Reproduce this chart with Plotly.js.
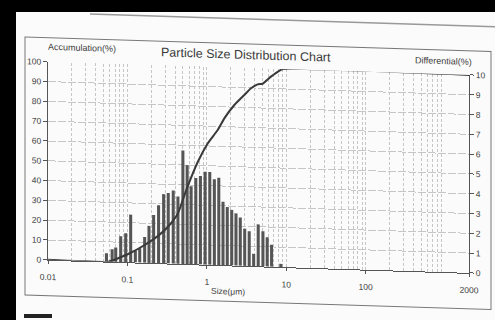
<!DOCTYPE html>
<html>
<head>
<meta charset="utf-8">
<script src="https://cdn.plot.ly/plotly-3.0.1.min.js"></script>
<style>
  html, body { margin: 0; padding: 0; background: #fff; }
  #wrap { position: relative; width: 495px; height: 320px; overflow: hidden; background: #fbfbfb; }
  #chart { position: absolute; left: 0; top: 0; width: 495px; height: 320px;
           transform: skewY(1.78deg); transform-origin: 247.5px 160px; }
  .band { position: absolute; background: #000; }
</style>
</head>
<body>
<div id="wrap">
  <div id="chart"></div>
  <div class="band" style="left:0;top:0;width:495px;height:12px;"></div>
  <div class="band" style="left:0;top:0;width:16px;height:320px;"></div>
  <div class="band" style="left:24px;top:314px;width:28px;height:4px;background:#222;"></div>
</div>
<script>
// Bar (differential) data: particle size (µm) and differential (%)
const sizes = [0.0545,0.0643,0.0713,0.0824,0.0952,0.110,0.126,0.143,0.165,0.187,0.214,0.247,0.286,0.327,0.378,0.433,0.500,0.566,0.635,0.727,0.831,0.952,1.09,1.245,1.415,1.60,1.81,2.06,2.33,2.64,3.00,3.42,3.89,4.44,5.09,5.76,6.54,8.55];
const differential = [0.42,0.63,0.73,1.30,1.46,2.41,0.60,0.73,1.30,1.87,2.43,2.93,3.50,3.56,3.70,3.40,5.73,5.00,3.94,4.36,4.47,4.69,4.69,4.33,4.41,3.21,2.95,2.81,2.64,2.44,1.88,1.76,0.62,2.12,1.78,1.48,1.11,0.16];

// Cumulative (accumulation) curve
const cumSizes = [0.01,0.0578,0.0764,0.107,0.165,0.243,0.324,0.433,0.550,0.771,1.03,1.37,1.66,2.22,2.96,3.60,4.36,5.04,6.41,8.15,9.07,2000];
const cumValues = [0,0,1.9,4.6,9.0,13.8,18.6,25.6,37.4,51.9,61.4,68.2,74.2,81.1,86.3,89.8,91.9,92.3,96.0,99.1,100,100];

// Tick labels
const xTickVals = [0.01,0.1,1,10,100,2000];
const xTickText = ['0.01','0.1','1','10','100','2000'];

const W = 495, H = 320, L = 48, R = 26, T = 68, B = 54;
const px = x => (x - L) / (W - L - R);
const py = y => 1 - (y - T) / (H - T - B);

const minorVals = [];
for (let d = -2; d <= 3; d++) {
  for (let k = 2; k <= 9; k++) {
    const v = k * Math.pow(10, d);
    if (v < 2000) minorVals.push(v);
  }
}

const font = 'Liberation Sans, Arial, sans-serif';
const tickFont = { family: font, size: 8.5, color: '#3c3c3c' };

const bars = {
  type: 'bar',
  x: sizes,
  y: differential,
  width: sizes.map(s => s * 0.088),
  marker: { color: '#555', line: { width: 0 } },
  xaxis: 'x', yaxis: 'y',
  hoverinfo: 'skip'
};

const curve = {
  type: 'scatter',
  mode: 'lines',
  x: cumSizes,
  y: cumValues,
  line: { color: '#3a3a3a', width: 2, shape: 'spline', smoothing: 0.5 },
  xaxis: 'x', yaxis: 'y2',
  hoverinfo: 'skip'
};

const gridCol = '#c6c6c6';

const layout = {
  width: W, height: H,
  margin: { l: L, r: R, t: T, b: B, pad: 0 },
  paper_bgcolor: 'rgba(0,0,0,0)',
  plot_bgcolor: 'rgba(0,0,0,0)',
  showlegend: false,
  font: { family: font, color: '#444' },
  xaxis: {
    type: 'log',
    range: [-2, Math.log10(2000)],
    tickmode: 'array', tickvals: xTickVals, ticktext: xTickText,
    ticks: 'outside', ticklen: 3, tickcolor: '#555',
    ticklabelstandoff: 6,
    tickfont: tickFont,
    showline: true, linecolor: '#555', linewidth: 1,
    showgrid: true, gridcolor: gridCol, griddash: '3px,2px', gridwidth: 1,
    minor: { tickmode: 'array', tickvals: minorVals, showgrid: true, gridcolor: gridCol, griddash: '3px,2px', gridwidth: 1, ticks: '' },
    zeroline: false, fixedrange: true
  },
  // differential axis (right)
  yaxis: {
    range: [0, 10], dtick: 1, side: 'right',
    ticks: 'outside', ticklen: 4, tickcolor: '#555',
    tickfont: tickFont,
    showline: true, linecolor: '#555', linewidth: 1,
    showgrid: false, zeroline: false
  },
  // accumulation axis (left)
  yaxis2: {
    range: [0, 100], dtick: 10, side: 'left', overlaying: 'y',
    ticks: 'outside', ticklen: 4, tickcolor: '#555',
    tickfont: tickFont,
    showline: true, linecolor: '#555', linewidth: 1,
    showgrid: true, gridcolor: gridCol, griddash: '8px,2px', gridwidth: 1,
    zeroline: false
  },
  annotations: [
    { text: 'Particle Size Distribution Chart', xref: 'paper', yref: 'paper', x: px(246), y: py(55), xanchor: 'center', yanchor: 'middle', showarrow: false, font: { family: font, size: 12.5, color: '#3a3a3a' } },
    { text: 'Accumulation(%)', xref: 'paper', yref: 'paper', x: px(82), y: py(53), xanchor: 'center', yanchor: 'middle', showarrow: false, font: { family: font, size: 9, color: '#3c3c3c' } },
    { text: 'Differential(%)', xref: 'paper', yref: 'paper', x: px(443), y: py(55), xanchor: 'center', yanchor: 'middle', showarrow: false, font: { family: font, size: 9, color: '#3c3c3c' } },
    { text: 'Size(μm)', xref: 'paper', yref: 'paper', x: px(228), y: py(291.5), xanchor: 'center', yanchor: 'middle', showarrow: false, font: { family: font, size: 8.5, color: '#3c3c3c' } }
  ],
  shapes: [
    { type: 'rect', xref: 'paper', yref: 'paper', x0: px(25), x1: px(491), y0: py(44), y1: py(302), line: { color: '#777', width: 1 }, layer: 'below' },
    { type: 'line', xref: 'paper', yref: 'paper', x0: px(90), x1: px(495), y0: py(19), y1: py(19), line: { color: '#999', width: 1.5 } }
  ]
};

Plotly.newPlot('chart', [bars, curve], layout, { staticPlot: true, displayModeBar: false });
</script>
</body>
</html>
